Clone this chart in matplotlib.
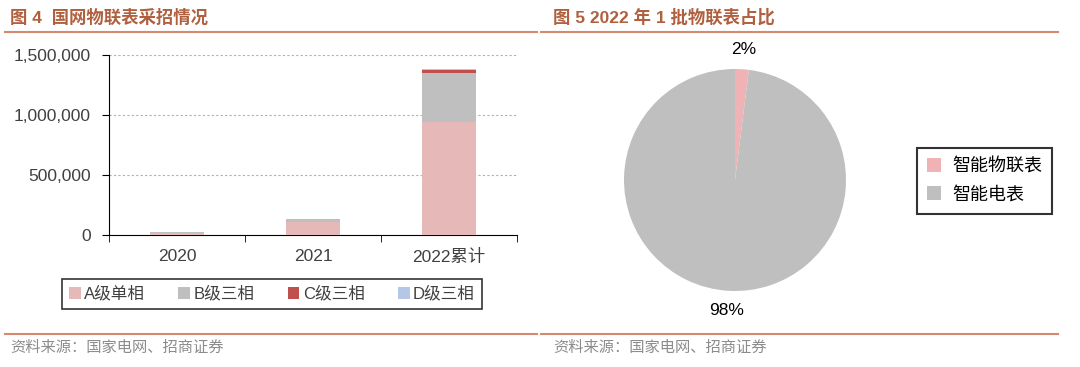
import numpy as np
import matplotlib.pyplot as plt
from matplotlib.lines import Line2D
from matplotlib.ticker import FuncFormatter

plt.rcParams['font.family'] = ['Liberation Sans', 'Noto Sans CJK SC', 'DejaVu Sans']

# bar chart data (figure 4)
years = ['2020', '2021', '2022累计']
grade_names = ['A级单相', 'B级三相', 'C级三相', 'D级三相']
grade_a = [20000, 110000, 945000]
grade_b = [2000, 22000, 408000]
grade_c = [0, 1000, 26000]
grade_d = [0, 0, 2000]
grade_colors = ['#e6b9b8', '#bfbfbf', '#c0504d', '#b4c7e7']

# pie data (figure 5)
pie_names = ['智能物联表', '智能电表']
pie_values = [2, 98]
pie_colors = ['#f0b3b5', '#bfbfbf']

W, H = 1080, 367
fig = plt.figure(figsize=(W / 100, H / 100), dpi=100)

def box(x0, y0, x1, y1):
    return [x0 / W, 1 - y1 / H, (x1 - x0) / W, (y1 - y0) / H]

title_col = '#b0603f'
rule_col = '#d58a6f'
src_col = '#8c8c8c'

# headers and rules
fig.text(10 / W, 1 - 17 / H, '图 4  国网物联表采招情况', color=title_col, fontsize=12.5,
         fontweight='bold', va='center', ha='left')
fig.text(553 / W, 1 - 17 / H, '图 5 2022 年 1 批物联表占比', color=title_col, fontsize=12.5,
         fontweight='bold', va='center', ha='left')
for x0, x1 in [(5, 537), (541, 1058)]:
    fig.add_artist(Line2D([x0 / W, x1 / W], [1 - 32 / H] * 2, color=rule_col, lw=1.5))
    fig.add_artist(Line2D([x0 / W, x1 / W], [1 - 334 / H] * 2, color=rule_col, lw=1.5))
fig.text(10 / W, 1 - 348 / H, '资料来源：国家电网、招商证券', color=src_col, fontsize=11,
         va='center', ha='left')
fig.text(553 / W, 1 - 348 / H, '资料来源：国家电网、招商证券', color=src_col, fontsize=11,
         va='center', ha='left')

# stacked bars
ax = fig.add_axes(box(109, 55, 517, 235))
x = np.arange(len(years))
bottom = np.zeros(len(years))
for vals, name, col in zip([grade_a, grade_b, grade_c, grade_d], grade_names, grade_colors):
    ax.bar(x, vals, width=0.4, bottom=bottom, color=col, label=name, zorder=3)
    bottom += np.array(vals)
ax.set_xlim(-0.5, 2.5)
ax.set_ylim(0, 1500000)
ax.set_yticks([0, 500000, 1000000, 1500000])
ax.yaxis.set_major_formatter(FuncFormatter(lambda v, p: f'{int(v):,}'))
ax.set_xticks(x)
ax.set_xticklabels(years)
ax.set_xticks([-0.5, 0.5, 1.5, 2.5], minor=True)
ax.tick_params(axis='x', which='major', length=0, pad=10, labelsize=12.5, labelcolor='#404040')
ax.tick_params(axis='x', which='minor', length=5, direction='out', color='#000000')
ax.tick_params(axis='y', length=5, direction='out', pad=8, labelsize=12.5, labelcolor='#404040')
ax.grid(axis='y', linestyle=(0, (2, 2)), color='#b0b0b0', lw=0.8, zorder=0)
for s in ['top', 'right']:
    ax.spines[s].set_visible(False)
ax.spines['left'].set_color('#000000')
ax.spines['bottom'].set_color('#000000')
leg = ax.legend(loc='center', bbox_to_anchor=((68 + 476) / 2 / W, 1 - 294 / H),
                bbox_transform=fig.transFigure, ncol=4, frameon=True, fancybox=False,
                fontsize=12, handlelength=0.7, handleheight=0.7, handletextpad=0.2,
                columnspacing=2.0, borderpad=0.45)
leg.get_frame().set_edgecolor('#000000')
leg.get_frame().set_linewidth(1.2)
for t in leg.get_texts():
    t.set_color('#404040')

# pie
pax = fig.add_axes(box(624, 69, 846, 291))
wedges, _, autotexts = pax.pie(pie_values, colors=pie_colors, startangle=90, counterclock=False,
                               autopct='%.0f%%', pctdistance=1.18,
                               textprops={'fontsize': 12.5, 'color': '#000000'})
pax.set_xlim(-1, 1)
pax.set_ylim(-1, 1)
pax.set_aspect('equal')
leg2 = fig.legend(wedges, pie_names, loc='center',
                  bbox_to_anchor=((917 + 1052) / 2 / W, 1 - 181 / H),
                  frameon=True, fancybox=False, fontsize=13, handlelength=0.8,
                  handleheight=0.8, handletextpad=0.6, borderpad=0.55, labelspacing=0.6)
leg2.get_frame().set_edgecolor('#000000')
leg2.get_frame().set_linewidth(1.5)

fig.savefig('out.png', dpi=100)
